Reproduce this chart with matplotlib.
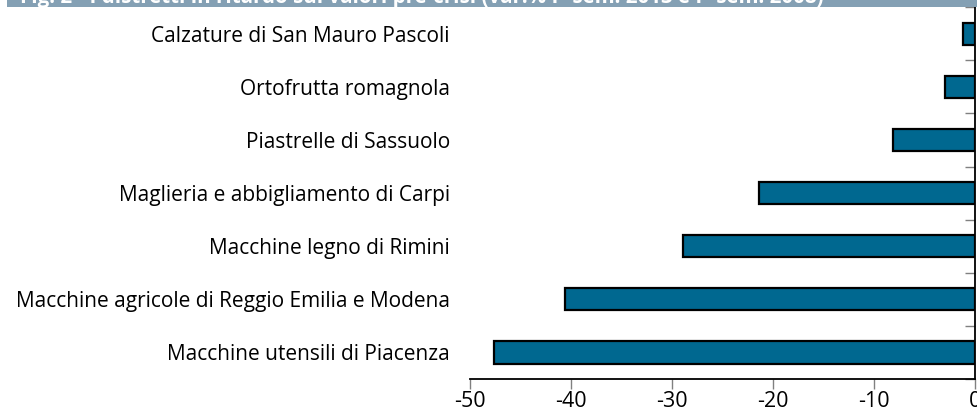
import matplotlib.pyplot as plt
import numpy as np
from matplotlib.patches import Rectangle

plt.rcParams['font.family'] = ['Open Sans', 'DejaVu Sans']

# Distretti e variazione % (I sem. 2013 vs I sem. 2008)
distretti = [
    "Macchine utensili di Piacenza",
    "Macchine agricole di Reggio Emilia e Modena",
    "Macchine legno di Rimini",
    "Maglieria e abbigliamento di Carpi",
    "Piastrelle di Sassuolo",
    "Ortofrutta romagnola",
    "Calzature di San Mauro Pascoli",
]
variazioni = [-47.6, -40.6, -28.9, -21.4, -8.1, -3.0, -1.2]
xticks = [-50, -40, -30, -20, -10, 0]

fig = plt.figure(figsize=(9.78, 4.16), dpi=100)
ax = fig.add_axes([0.4806, 0.0889, 0.5163, 0.894])

y = np.arange(len(distretti))
ax.barh(y, variazioni, height=0.42, color='#006890', edgecolor='black', linewidth=1.6)

ax.set_xlim(-50, 0)
ax.set_ylim(-0.5, len(distretti) - 0.5)

# assi
for s in ['top', 'left']:
    ax.spines[s].set_visible(False)
ax.spines['bottom'].set_linewidth(1.3)
ax.spines['right'].set_linewidth(1.3)

ax.set_xticks(xticks)
ax.set_xticklabels([str(v) for v in xticks], fontsize=15.5)
ax.tick_params(axis='x', direction='out', length=7, color='#808080', width=1, pad=1.5)

ax.set_yticks(y)
ax.set_yticklabels(distretti, fontsize=15.0)
ax.tick_params(axis='y', which='major', length=0, pad=14.5)
ax.set_yticks(np.arange(-0.5, len(distretti)), minor=True)
ax.tick_params(axis='y', which='minor', left=False, right=True, direction='in',
               length=7, color='#808080', width=1)

# barra del titolo (tagliata in alto)
fig.patches.append(Rectangle((0.0072, 0.983), 0.9928, 0.03, transform=fig.transFigure,
                             facecolor='#84A0B4', edgecolor='none', zorder=0))
fig.text(0.02, 1.005, "Fig. 2 - I distretti in ritardo sui valori pre-crisi (var.% I° sem. 2013 e I° sem. 2008)",
         color='white', fontsize=14.8, fontweight='bold', va='center', ha='left')

fig.savefig('out.png', dpi=100)
